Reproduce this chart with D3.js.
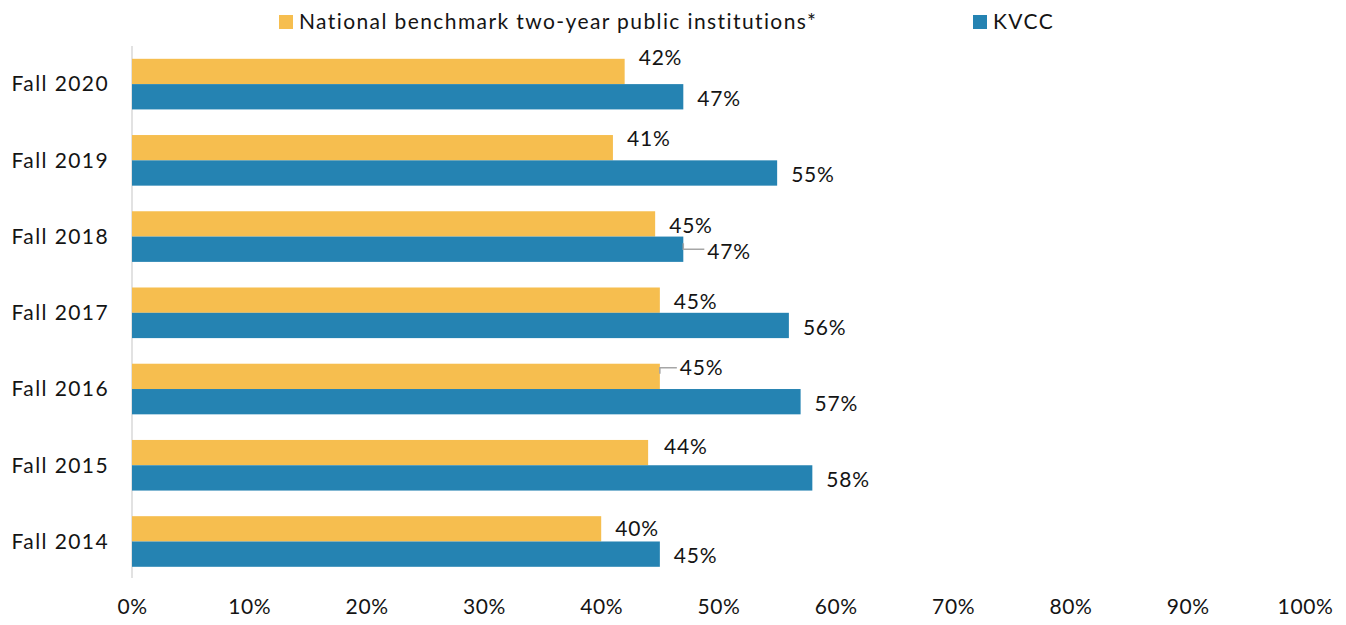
<!DOCTYPE html>
<html><head><meta charset="utf-8">
<script src="https://cdn.jsdelivr.net/npm/d3@7"></script>
<style>body{margin:0;background:#fff}svg{display:block}text{font-family:Lato,"Noto Sans",sans-serif;fill:#141414;font-weight:400;letter-spacing:1.4px}</style>
</head><body><svg id="c" width="1346" height="625"></svg>
<script>
const categories = ["Fall 2020","Fall 2019","Fall 2018","Fall 2017","Fall 2016","Fall 2015","Fall 2014"];
const seriesNames = ["National benchmark two-year public institutions*","KVCC"];
const benchmark = [42,41,44.6,45,45,44,40];
const kvcc = [47,55,47,56,57,58,45];
const benchmarkLabels = ["42%","41%","45%","45%","45%","44%","40%"];
const kvccLabels = ["47%","55%","47%","56%","57%","58%","45%"];
const xTicks = [0,10,20,30,40,50,60,70,80,90,100];
const colors = ["#F6BE4F","#2583B2"];
// label nudges (dx, dy) relative to default label position
const benchNudge = [[2,-14],[2,-9],[2,2],[2,2],[8,-9],[4,-6],[2,0]];
const kvccNudge = [[2,2],[2,2],[12,2],[2,2],[2,2],[2,2],[2,2]];
const leaderBench = [false,false,false,false,true,false,false];
const leaderKvcc = [false,false,true,false,false,false,false];
const FS = 21;

const svg = d3.select("#c");
const x = d3.scaleLinear().domain([0,100]).range([132,1305]);
const y = d3.scaleBand().domain(categories).range([46,579.6]).paddingInner(0.336).paddingOuter(0.168);
const inner = d3.scaleBand().domain([0,1]).range([0,y.bandwidth()]);

const data = categories.map((c,i)=>({c,i,vals:[benchmark[i],kvcc[i]],labels:[benchmarkLabels[i],kvccLabels[i]]}));

// axis line
svg.append("line").attr("x1",x(0)).attr("x2",x(0)).attr("y1",46).attr("y2",578).attr("stroke","#d9d9d9").attr("stroke-width",1.5);

const g = svg.selectAll("g.cat").data(data).enter().append("g").attr("transform",d=>`translate(0,${y(d.c)})`);
g.selectAll("rect").data(d=>d.vals.map((v,s)=>({v,s}))).enter().append("rect")
 .attr("x",x(0)).attr("y",d=>inner(d.s)).attr("width",d=>x(d.v)-x(0)).attr("height",inner.bandwidth()).attr("fill",d=>colors[d.s]);

// labels
data.forEach(d=>{
  const gy = y(d.c);
  [0,1].forEach(s=>{
    const nud = s===0?benchNudge[d.i]:kvccNudge[d.i];
    const leader = s===0?leaderBench[d.i]:leaderKvcc[d.i];
    const bx = x(d.vals[s]);
    const by = gy+inner(s)+inner.bandwidth()/2;
    const lx = bx+12+nud[0], ly = by+nud[1];
    if(leader){
      const ty = s===0? gy+inner(s)+4 : by;
      svg.append("path").attr("d",`M${bx},${s===0?ty+6:ty-6}L${bx},${ty}L${lx-3},${ty}`).attr("fill","none").attr("stroke","#a6a6a6").attr("stroke-width",1.5);
    }
    svg.append("text").attr("x",lx).attr("y",ly).attr("dy","0.35em").attr("font-size",FS).style("letter-spacing","0.8px").text(d.labels[s]);
  });
});

// y axis labels
svg.selectAll("text.yl").data(categories).enter().append("text").attr("class","yl")
 .attr("x",109).attr("y",d=>y(d)+y.bandwidth()/2).attr("dy","0.35em").attr("text-anchor","end").attr("font-size",FS).text(d=>d);

// x axis
const xa = svg.append("g").attr("transform","translate(0,596)").call(d3.axisBottom(x).tickValues(xTicks).tickSize(0).tickFormat(d=>d+"%"));
xa.select(".domain").remove();
xa.selectAll("text").attr("font-size",FS).style("font-family","Lato, 'Noto Sans', sans-serif").style("letter-spacing","0.6px").attr("fill","#141414");

// legend
const leg = [{x:279,t:seriesNames[0],c:colors[0]},{x:973,t:seriesNames[1],c:colors[1]}];
leg.forEach(l=>{
  svg.append("rect").attr("x",l.x).attr("y",15).attr("width",14).attr("height",14).attr("fill",l.c);
  svg.append("text").attr("x",l.x+20).attr("y",22).attr("dy","0.35em").attr("font-size",FS).text(l.t);
});
</script></body></html>
